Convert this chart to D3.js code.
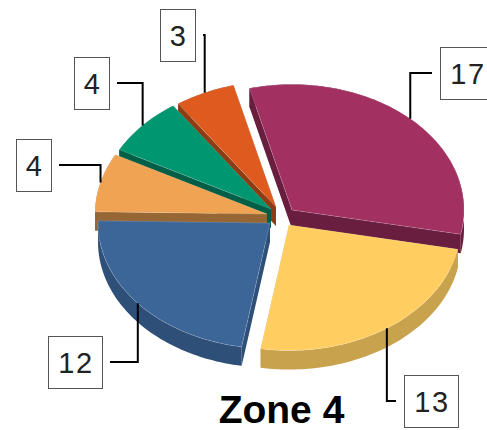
<!DOCTYPE html>
<html>
<head>
<meta charset="utf-8">
<script src="https://cdn.jsdelivr.net/npm/d3@7"></script>
<style>
  html, body { margin: 0; padding: 0; background: #fff; }
  svg { display: block; }
  .label-text { font-family: "Liberation Sans", sans-serif; font-size: 29px; letter-spacing: 1.5px; fill: #222; }
  .title { font-family: "Liberation Sans", sans-serif; font-size: 39px; font-weight: 700; fill: #000; }
</style>
</head>
<body>
<div id="chart"></div>
<script>
// Data, clockwise from the purple slice
const zones = ["a", "b", "c", "d", "e", "f"];
const values = [17, 13, 12, 4, 4, 3];
const topColors = ["#A23061", "#FFCD60", "#3C6698", "#F0A352", "#009670", "#DE5A1F"];
const wallColors = ["#691D3F", "#C8A24C", "#2D4F78", "#966635", "#005F46", "#8E3C14"];
const chartTitle = "Zone 4";

// Layout: where each exploded slice has its point, and where its label box sits
const apexes = [[292, 210], [289, 225], [270, 223], [267, 214], [271, 209], [276, 207]];
const boxes = [
  { x: 440, y: 47, w: 54, side: "right" },
  { x: 404, y: 375, w: 54, side: "right" },
  { x: 48, y: 336, w: 54, side: "left" },
  { x: 16, y: 139, w: 35, side: "left" },
  { x: 74, y: 57, w: 35, side: "left" },
  { x: 160, y: 9, w: 35, side: "left" },
];

const width = 487, height = 430;
const radius = 172, tilt = 0.73, depth = 19, boxHeight = 52, leaderGap = 8;

const svg = d3.select("#chart").append("svg")
  .attr("width", width)
  .attr("height", height);

// Angles come from the pie layout, the first slice starts a bit left of 12 o'clock
const startAngle = -14.3 * Math.PI / 180;
const arcs = d3.pie().sort(null).startAngle(startAngle).endAngle(startAngle + 2 * Math.PI)(values);

const line = d3.line();

function rimPoint(i, angle, drop) {
  return [
    apexes[i][0] + radius * Math.sin(angle),
    apexes[i][1] - radius * tilt * Math.cos(angle) + drop,
  ];
}

function rimPoints(i, a0, a1, drop) {
  const steps = Math.ceil((a1 - a0) * 40);
  return d3.range(steps + 1).map((s) => rimPoint(i, a0 + (a1 - a0) * s / steps, drop));
}

// Back slices first so that the front ones cover their walls
const drawOrder = [5, 4, 3, 0, 2, 1];

drawOrder.forEach((i) => {
  const d = arcs[i];
  const apex = apexes[i];
  const apexLow = [apex[0], apex[1] + depth];
  const g = svg.append("g").attr("class", "slice slice-" + zones[i]);

  // Side walls at both cut edges
  [d.startAngle, d.endAngle].forEach((a) => {
    g.append("path")
      .attr("d", line([apex, rimPoint(i, a, 0), rimPoint(i, a, depth), apexLow]) + "Z")
      .style("fill", wallColors[i]);
  });

  // Outer wall
  const top = rimPoints(i, d.startAngle, d.endAngle, 0);
  const low = rimPoints(i, d.startAngle, d.endAngle, depth).reverse();
  g.append("path")
    .attr("d", line(top.concat(low)) + "Z")
    .style("fill", wallColors[i]);

  // Top face with a faint light edge
  g.append("path")
    .attr("d", line([apex].concat(top)) + "Z")
    .style("fill", topColors[i])
    .style("stroke", "#fff")
    .style("stroke-opacity", 0.25)
    .style("stroke-width", 0.7);
});

// Leaders and label boxes
values.forEach((v, i) => {
  const d = arcs[i];
  const b = boxes[i];
  const anchor = rimPoint(i, (d.startAngle + d.endAngle) / 2, 0);
  const midY = b.y + boxHeight / 2;
  const endX = b.side === "right" ? b.x - leaderGap : b.x + b.w + leaderGap;

  svg.append("path")
    .attr("d", line([anchor, [anchor[0], midY], [endX, midY]]))
    .style("fill", "none")
    .style("stroke", "#000")
    .style("stroke-width", 2);

  svg.append("rect")
    .attr("x", b.x + 0.5)
    .attr("y", b.y + 0.5)
    .attr("width", b.w)
    .attr("height", boxHeight)
    .style("fill", "#fff")
    .style("stroke", "#555");

  svg.append("text")
    .attr("class", "label-text")
    .attr("x", b.x + b.w / 2 + 1)
    .attr("y", midY + 10.5)
    .attr("text-anchor", "middle")
    .text(v);
});

svg.append("text")
  .attr("class", "title")
  .attr("x", 281.5)
  .attr("y", 423)
  .attr("text-anchor", "middle")
  .text(chartTitle);
</script>
</body>
</html>
